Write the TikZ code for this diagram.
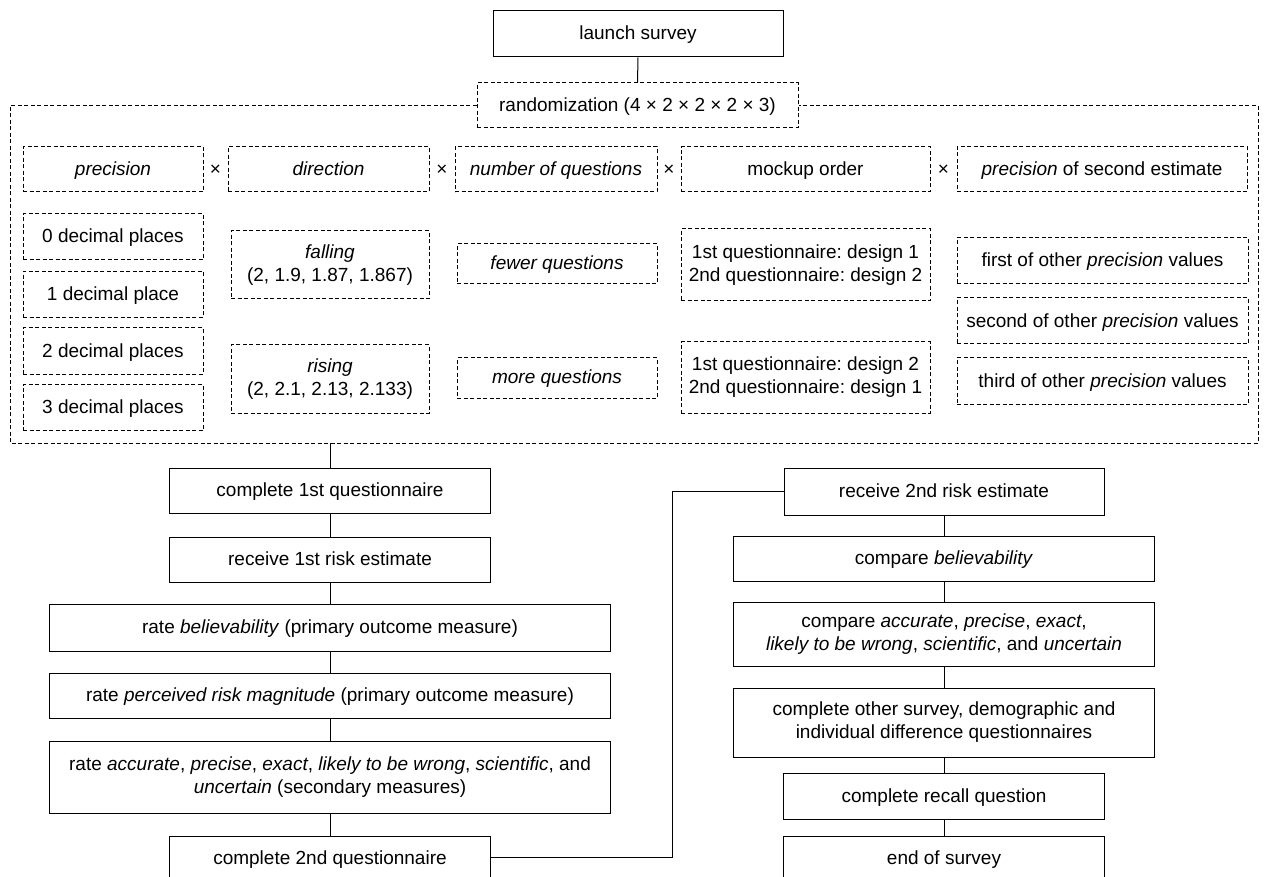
\documentclass[tikz,border=0pt]{standalone}
\usepackage{fontspec}
\setmainfont{Liberation Sans}
\frenchspacing

\begin{document}
\begin{tikzpicture}[x=1pt,y=-1pt,
    font=\fontsize{19}{23}\selectfont,
    stagebox/.style={draw, line width=1pt, align=center, inner sep=0pt},
    factorbox/.style={draw, line width=1pt, dash pattern=on 4pt off 2.5pt, align=center, inner sep=0pt},
    single/.style={text height=15pt, text depth=3pt},
    stage/.style={stagebox, single},
    factor/.style={factorbox, single},
    frameline/.style={line width=1pt, dash pattern=on 4pt off 2.5pt},
    link/.style={line width=1pt}]
    \useasboundingbox (0,0) rectangle (1264,877);
    \node[stage, minimum width=290pt, minimum height=46pt] (launch) at (638,34) {launch survey};
    \node[factor, minimum width=321pt, minimum height=45pt] (rand) at (637.5,105.5) {randomization (4 × 2 × 2 × 2 × 3)};
    \coordinate (frameSW) at (10,443);
    \coordinate (frameNE) at (1258,105.5);
    \draw[frameline] (rand.west) -| (frameSW) -| (frameNE) -- (rand.east);
    \draw[link] (launch.south) -- (rand.north);

    \node[factor, minimum width=180pt, minimum height=45pt] (prec) at (113,169.5) {\textit{precision}};
    \node[single] (times1) at (215.5,169.5) {×};
    \node[factor, minimum width=201pt, minimum height=45pt] (dir) at (328.5,169.5) {\textit{direction}};
    \node[single] (times2) at (442,169.5) {×};
    \node[factor, minimum width=202pt, minimum height=45pt] (numq) at (556,169.5) {\textit{number of questions}};
    \node[single] (times3) at (669,169.5) {×};
    \node[factor, minimum width=249pt, minimum height=45pt] (order) at (805.5,169.5) {mockup order};
    \node[single] (times4) at (943.5,169.5) {×};
    \node[factor, minimum width=290pt, minimum height=45pt] (prectwo) at (1102,169.5) {\textit{precision} of second estimate};

    \node[factor, minimum width=180pt, minimum height=46pt] (dp0) at (113,237) {0 decimal places};
    \node[factor, minimum width=180pt, minimum height=46pt] (dp1) at (113,294.5) {1 decimal place};
    \node[factor, minimum width=180pt, minimum height=46pt] (dp2) at (113,351) {2 decimal places};
    \node[factor, minimum width=180pt, minimum height=46pt] (dp3) at (113,407.5) {3 decimal places};

    \node[factorbox, minimum width=198pt, minimum height=68pt] (falling) at (330,265) {\textit{falling}\\(2, 1.9, 1.87, 1.867)};
    \node[factorbox, minimum width=198pt, minimum height=68pt] (rising) at (330,379) {\textit{rising}\\(2, 2.1, 2.13, 2.133)};

    \node[factor, minimum width=200pt, minimum height=40pt] (fewer) at (557,264) {\textit{fewer questions}};
    \node[factor, minimum width=200pt, minimum height=40pt] (more) at (557,378) {\textit{more questions}};

    \node[factorbox, minimum width=249pt, minimum height=72pt] (orderA) at (805.5,265) {1st questionnaire: design 1\\2nd questionnaire: design 2};
    \node[factorbox, minimum width=249pt, minimum height=71pt] (orderB) at (805.5,377.5) {1st questionnaire: design 2\\2nd questionnaire: design 1};

    \node[factor, minimum width=291pt, minimum height=46pt] (otherA) at (1102.5,261) {first of other \textit{precision} values};
    \node[factor, minimum width=291pt, minimum height=46pt] (otherB) at (1102.5,321) {second of other \textit{precision} values};
    \node[factor, minimum width=291pt, minimum height=46pt] (otherC) at (1102.5,381) {third of other \textit{precision} values};

    \node[stage, minimum width=321pt, minimum height=45pt] (firstq) at (330,490.5) {complete 1st questionnaire};
    \node[stage, minimum width=321pt, minimum height=45pt] (firstrisk) at (330,559.5) {receive 1st risk estimate};
    \node[stage, minimum width=561pt, minimum height=47pt] (ratebel) at (330,627.5) {rate \textit{believability} (primary outcome measure)};
    \node[stage, minimum width=561pt, minimum height=45pt] (ratemag) at (330,695.5) {rate \textit{perceived risk magnitude} (primary outcome measure)};
    \node[stagebox, minimum width=561pt, minimum height=72pt] (rateacc) at (330,777) {rate \textit{accurate}, \textit{precise}, \textit{exact}, \textit{likely to be wrong}, \textit{scientific}, and\\\textit{uncertain} (secondary measures)};
    \node[stage, minimum width=321pt, minimum height=45pt] (secondq) at (330,858.5) {complete 2nd questionnaire};

    \node[stage, minimum width=320pt, minimum height=47pt] (secondrisk) at (944,491.5) {receive 2nd risk estimate};
    \node[stage, minimum width=421pt, minimum height=45pt] (cmpbel) at (944,558.5) {compare \textit{believability}};
    \node[stagebox, minimum width=421pt, minimum height=64pt] (cmpacc) at (944,634) {compare \textit{accurate}, \textit{precise}, \textit{exact},\\\textit{likely to be wrong}, \textit{scientific}, and \textit{uncertain}};
    \node[stagebox, minimum width=421pt, minimum height=69pt] (other) at (944,722.5) {complete other survey, demographic and\\individual difference questionnaires};
    \node[stage, minimum width=321pt, minimum height=46pt] (recall) at (944,796) {complete recall question};
    \node[stage, minimum width=321pt, minimum height=45pt] (endsurvey) at (944,858.5) {end of survey};

    \draw[link] (firstq.north) -- (firstq.north |- frameSW);
    \draw[link] (firstq) -- (firstrisk) -- (ratebel) -- (ratemag) -- (rateacc) -- (secondq);
    \coordinate (turn) at (672,857);
    \draw[link] (secondq.east |- turn) -- (turn) |- (secondrisk.west);
    \draw[link] (secondrisk) -- (cmpbel) -- (cmpacc) -- (other) -- (recall) -- (endsurvey);
\end{tikzpicture}
\end{document}
